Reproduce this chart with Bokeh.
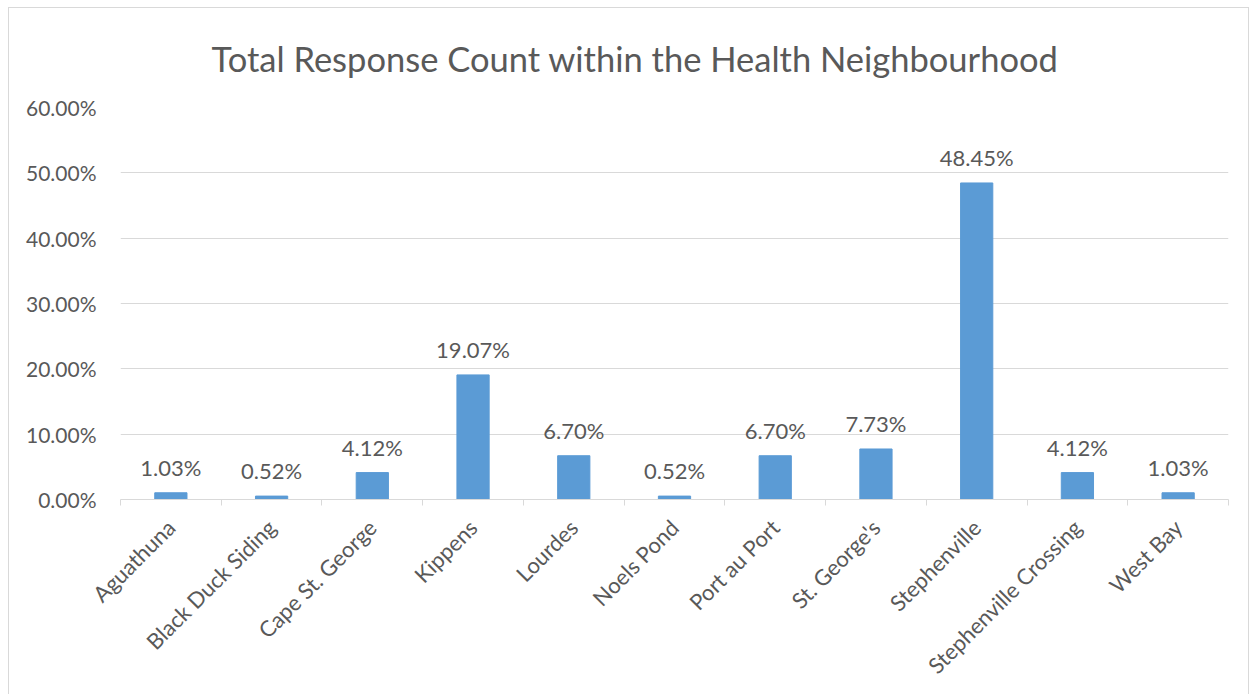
import math
from bokeh.plotting import figure
from bokeh.models import (Range1d, FixedTicker, PrintfTickFormatter,
                          ColumnDataSource)
from bokeh.core.properties import value
from bokeh.embed import file_html
from bokeh.resources import INLINE

# ---- data ----
categories = ["Aguathuna", "Black Duck Siding", "Cape St. George", "Kippens",
              "Lourdes", "Noels Pond", "Port au Port", "St. George's",
              "Stephenville", "Stephenville Crossing", "West Bay"]
percent = [1.03, 0.52, 4.12, 19.07, 6.70, 0.52, 6.70, 7.73, 48.45, 4.12, 1.03]
y_ticks = [0, 10, 20, 30, 40, 50, 60]
title_text = "Total Response Count within the Health Neighbourhood"

FONT = "Lato"
TXT = "#595959"
GRID = "#D9D9D9"
BAR = "#5B9BD5"

n = len(categories)
centers = [i + 0.5 for i in range(n)]
bounds = [float(i) for i in range(n + 1)]

src = ColumnDataSource(dict(
    x=centers, top=percent, cat=categories,
    lab=["%.2f%%" % v for v in percent],
))

p = figure(frame_width=1108, frame_height=392,
           x_range=Range1d(0, n), y_range=Range1d(y_ticks[0], y_ticks[-1]),
           output_backend="svg", toolbar_location=None, title=title_text)
p.min_border_left = 111
p.min_border_right = 20
p.min_border_top = 99
p.min_border_bottom = 195
p.outline_line_color = None
p.background_fill_color = "white"
p.border_fill_color = "white"
p.styles = {"border": "1px solid #D9D9D9", "box-sizing": "border-box",
            "margin-left": "8px", "margin-top": "7px"}

p.title.align = "left"
p.title.offset = 91
p.title.vertical_align = "top"
p.title.text_font = FONT
p.title.text_font_size = "34.5px"
p.title.text_font_style = "normal"
p.title.text_color = TXT
p.title.standoff = 54

p.vbar(x="x", top="top", width=0.32, bottom=0, source=src,
       fill_color=BAR, line_color=BAR)

p.text(x="x", y="top", text="lab", source=src, text_align="center",
       text_baseline="bottom", y_offset=-12, text_font=value(FONT),
       text_font_size="22px", text_color=TXT)

# x axis
xa = p.xaxis[0]
xa.ticker = FixedTicker(ticks=centers, minor_ticks=bounds)
xa.major_label_overrides = {c: name for c, name in zip(centers, categories)}
xa.major_label_orientation = math.pi / 4
xa.major_tick_line_color = None
xa.minor_tick_line_color = GRID
xa.minor_tick_in = 0
xa.minor_tick_out = 6
xa.axis_line_color = GRID
xa.major_label_text_font = FONT
xa.major_label_text_font_size = "22px"
xa.major_label_text_color = TXT
xa.major_label_standoff = 18

# y axis
ya = p.yaxis[0]
ya.ticker = FixedTicker(ticks=y_ticks)
ya.formatter = PrintfTickFormatter(format="%.2f%%")
ya.axis_line_color = None
ya.major_tick_line_color = None
ya.minor_tick_line_color = None
ya.major_label_text_font = FONT
ya.major_label_text_font_size = "21px"
ya.major_label_text_color = TXT
ya.major_label_standoff = 18

p.xgrid.grid_line_color = None
p.ygrid.ticker = FixedTicker(ticks=y_ticks)
p.ygrid.grid_line_color = GRID

open("out.html", "w").write(file_html(p, INLINE))
